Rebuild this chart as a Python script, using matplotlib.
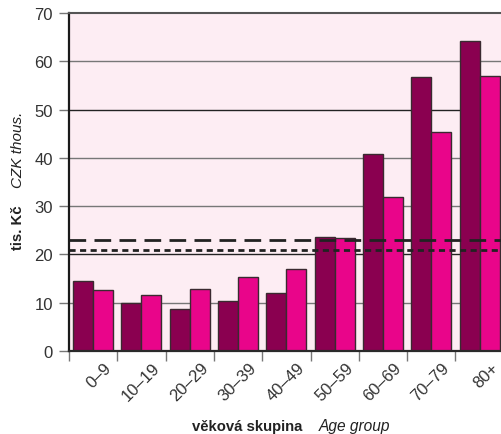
import matplotlib
matplotlib.use("Agg")
import matplotlib.pyplot as plt
import matplotlib.transforms as mtransforms
import numpy as np

plt.rcParams['font.family'] = ['Liberation Sans', 'DejaVu Sans']

categories = ["0–9", "10–19", "20–29", "30–39", "40–49", "50–59", "60–69", "70–79", "80+"]
series_dark = [14.5, 10.0, 8.7, 10.4, 12.0, 23.7, 40.7, 56.7, 64.3]
series_pink = [12.6, 11.6, 12.8, 15.4, 16.9, 23.5, 31.8, 45.3, 57.0]
avg_dark = 23.0
avg_pink = 20.9
yticks = [0, 10, 20, 30, 40, 50, 60, 70]

W, H = 501, 435
fig = plt.figure(figsize=(W / 100, H / 100), dpi=100)
ax = fig.add_axes([69 / W, (H - 352) / H, 434.7 / W, 338 / H])
ax.set_facecolor('#fdedf3')

x = np.arange(len(categories))
bw = 0.414
ax.bar(x - bw / 2, series_dark, width=bw, color='#8a0050', edgecolor='#3a2a30', linewidth=1.0, zorder=3)
ax.bar(x + bw / 2, series_pink, width=bw, color='#e9058a', edgecolor='#3a2a30', linewidth=1.0, zorder=3)

ax.axhline(avg_dark, color='#222222', linewidth=2.0, dashes=(6, 3), zorder=5)
ax.axhline(avg_pink, color='#222222', linewidth=2.0, dashes=(2.2, 1.6), zorder=5)

ax.set_xlim(-0.5, len(categories) - 0.5)
ax.set_ylim(0, 70)

for v in yticks[1:-1]:
    col = '#222222' if v in (20, 50) else '#777777'
    ax.axhline(v, color=col, linewidth=1.0, zorder=1)

ax.set_yticks(yticks)
ax.tick_params(axis='y', length=7.2, width=1.0, color='#777777', pad=4.5, labelsize=12, labelcolor='#333333')

ax.set_xticks(x)
ax.set_xticklabels(categories)
ax.tick_params(axis='x', which='major', length=0, labelsize=12, labelcolor='#333333', pad=0)
ax.set_xticks(np.arange(len(categories) + 1) - 0.5, minor=True)
ax.tick_params(axis='x', which='minor', length=7.2, width=1.0, color='#777777')

offset = mtransforms.ScaledTranslation(16 / 100, -14 / 100, fig.dpi_scale_trans)
for lab in ax.get_xticklabels():
    lab.set_rotation(45)
    lab.set_ha('right')
    lab.set_va('center')
    lab.set_rotation_mode('anchor')
    lab.set_transform(lab.get_transform() + offset)

ax.spines['right'].set_visible(False)
ax.spines['left'].set_color('#1a1a1a')
ax.spines['left'].set_linewidth(1.6)
ax.spines['bottom'].set_color('#2a2a2a')
ax.spines['bottom'].set_linewidth(1.6)
ax.spines['top'].set_color('#555555')
ax.spines['top'].set_linewidth(1.5)
for sp in ax.spines.values():
    sp.set_zorder(6)

fig.text(192 / W, 1 - 427 / H, "věková skupina", fontsize=10.7, fontweight='bold', color='#222222',
         ha='left', va='center')
fig.text(319 / W, 1 - 427 / H, "Age group", fontsize=11.2, style='italic', color='#222222',
         ha='left', va='center')
fig.text(18 / W, 1 - 228 / H, "tis. Kč", fontsize=10.7, fontweight='bold', color='#222222',
         ha='center', va='center', rotation=90)
fig.text(18 / W, 1 - 150 / H, "CZK thous.", fontsize=11, style='italic', color='#222222',
         ha='center', va='center', rotation=90)

fig.savefig('out.png', dpi=100)
